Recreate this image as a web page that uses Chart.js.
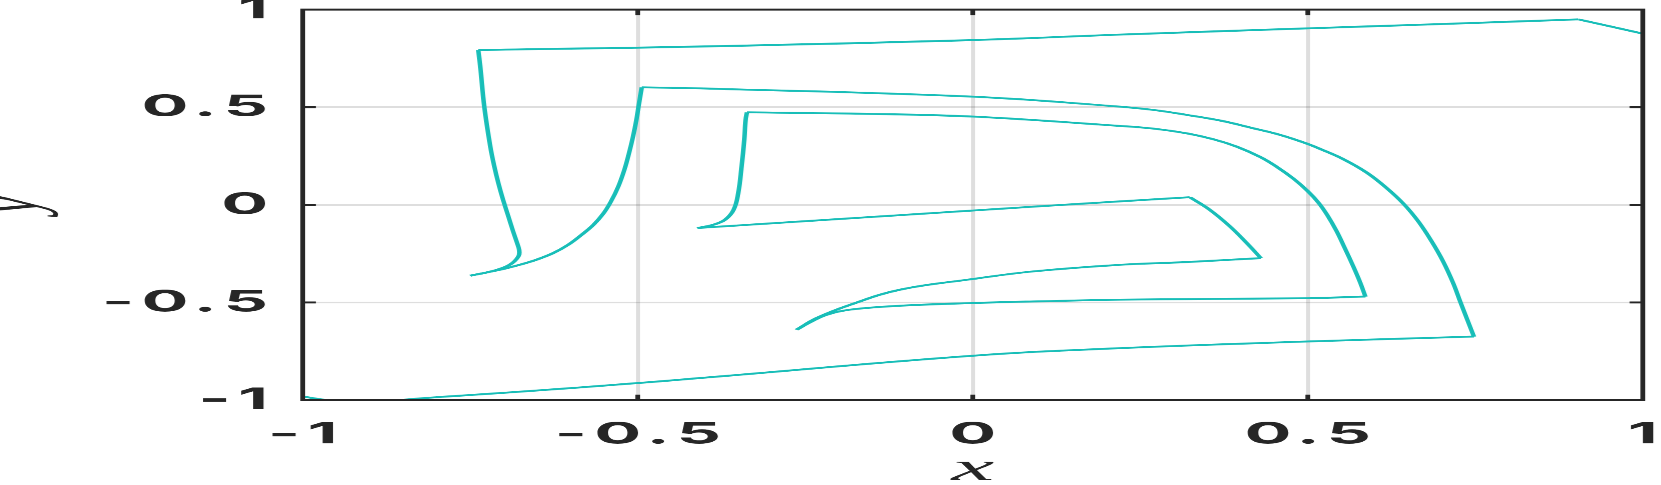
<!DOCTYPE html>
<html>
<head>
<meta charset="utf-8">
<script src="https://cdn.jsdelivr.net/npm/chart.js@4.4.1/dist/chart.umd.min.js"></script>
<style>
  html, body { margin: 0; padding: 0; background: #fff; overflow: hidden; }
  /* the reference figure is stretched sideways, so draw narrow and widen it */
  #wrap { width: 692px; height: 485px; transform: scaleX(2.40029); transform-origin: 0 0; }
</style>
</head>
<body>
<div id="wrap"><canvas id="app" width="692" height="485"></canvas></div>
<script>
// tick values / labels
const xTicks = [-1, -0.5, 0, 0.5, 1];
const yTicks = [-1, -0.5, 0, 0.5, 1];
const xTickLabels = ['-1', '-0.5', '0', '0.5', '1'];
const yTickLabels = ['-1', '-0.5', '0', '0.5', '1'];

// trajectory pieces, split at the corners: [x, y]
const outerLow = [[-1.0, -0.982], [-0.96, -1.0], [-0.86, -1.0], [-0.82, -0.990], [-0.671, -0.956],
  [-0.5, -0.913], [-0.392, -0.883], [0, -0.773], [0.220, -0.734], [0.5, -0.700], [0.748, -0.675]];
const outerArc = [[0.748, -0.675], [0.728, -0.500], [0.717, -0.401], [0.702, -0.290],
  [0.685, -0.188], [0.665, -0.085], [0.643, 0.005], [0.618, 0.085], [0.588, 0.165], [0.553, 0.234],
  [0.518, 0.287], [0.5, 0.312], [0.459, 0.358], [0.419, 0.392], [0.369, 0.432], [0.319, 0.461],
  [0.270, 0.486], [0.220, 0.503], [0, 0.554], [-0.392, 0.595], [-0.494, 0.602]];
const outerDrop = [[-0.494, 0.602], [-0.498, 0.520], [-0.502, 0.435], [-0.507, 0.350], [-0.513, 0.265],
  [-0.520, 0.179], [-0.529, 0.094], [-0.540, 0.017], [-0.551, -0.043], [-0.566, -0.102],
  [-0.584, -0.154], [-0.604, -0.205], [-0.626, -0.247], [-0.651, -0.281], [-0.676, -0.307],
  [-0.701, -0.329], [-0.725, -0.346], [-0.750, -0.363]];
const hookRise = [[-0.750, -0.363], [-0.725, -0.346], [-0.710, -0.333], [-0.696, -0.316], [-0.687, -0.298],
  [-0.681, -0.278], [-0.677, -0.256], [-0.677, -0.230], [-0.680, -0.196], [-0.686, -0.136],
  [-0.693, -0.060], [-0.701, 0.026], [-0.708, 0.111], [-0.714, 0.196], [-0.720, 0.298],
  [-0.729, 0.503], [-0.735, 0.708], [-0.738, 0.793]];
const topLine = [[-0.738, 0.793], [-0.392, 0.812], [0, 0.844], [0.220, 0.872], [0.5, 0.904],
  [0.698, 0.926], [0.904, 0.950]];
const topExit = [[0.904, 0.950], [1.0, 0.877]];
const midRise = [[-0.411, -0.119], [-0.387, -0.102], [-0.370, -0.077], [-0.357, -0.026], [-0.350, 0.060],
  [-0.345, 0.196], [-0.341, 0.333], [-0.339, 0.435], [-0.337, 0.474]];
const midArc = [[-0.337, 0.474], [-0.158, 0.466], [0, 0.452], [0.220, 0.404], [0.271, 0.390],
  [0.320, 0.366], [0.359, 0.336], [0.394, 0.298], [0.429, 0.245], [0.454, 0.194], [0.479, 0.133],
  [0.5, 0.070], [0.516, 0.011], [0.529, -0.052], [0.543, -0.135], [0.555, -0.220], [0.568, -0.316],
  [0.578, -0.396], [0.586, -0.470]];
const midLow = [[0.586, -0.470], [0.5, -0.478], [0.220, -0.486], [0.090, -0.495], [0, -0.503],
  [-0.109, -0.517], [-0.183, -0.537], [-0.218, -0.563], [-0.243, -0.602], [-0.263, -0.640]];
const innerTop = [[-0.411, -0.119], [0, -0.029], [0.220, 0.018], [0.324, 0.039]];
const innerArc = [[0.324, 0.039], [0.354, -0.026], [0.384, -0.111], [0.409, -0.196], [0.430, -0.273]];
const innerLow = [[0.430, -0.273], [0.319, -0.293], [0.220, -0.307], [0.090, -0.341], [0, -0.380],
  [-0.109, -0.435], [-0.183, -0.512], [-0.233, -0.580], [-0.263, -0.640]];

const pieces = [outerLow, outerArc, outerDrop, hookRise, topLine, topExit,
  midRise, midArc, midLow, innerTop, innerArc, innerLow];

const TEAL = 'rgb(24,190,184)';
const AXIS = '#262626';
const GRID = 'rgba(0,0,0,0.13)';
const TICK = 5.5;

const datasets = pieces.map(p => ({
  data: p.map(([x, y]) => ({ x, y })),
  showLine: true,
  borderColor: TEAL,
  borderWidth: 1.9,
  pointRadius: 0,
  tension: 0.4,
  fill: false,
}));

// box + inward ticks, then letter spacing for the tick labels drawn after this
const frame = {
  id: 'frame',
  afterDatasetsDraw(chart) {
    const { ctx, chartArea: a, scales: { x, y } } = chart;
    ctx.save();
    ctx.strokeStyle = AXIS;
    ctx.lineWidth = 2;
    ctx.beginPath();
    xTicks.slice(1, -1).forEach(v => {
      const px = x.getPixelForValue(v);
      ctx.moveTo(px, a.bottom); ctx.lineTo(px, a.bottom - TICK);
      ctx.moveTo(px, a.top); ctx.lineTo(px, a.top + TICK);
    });
    yTicks.slice(1, -1).forEach(v => {
      const py = y.getPixelForValue(v);
      ctx.moveTo(a.left, py); ctx.lineTo(a.left + TICK, py);
      ctx.moveTo(a.right, py); ctx.lineTo(a.right - TICK, py);
    });
    ctx.stroke();
    ctx.strokeRect(a.left, a.top, a.right - a.left, a.bottom - a.top);
    ctx.restore();
    ctx.letterSpacing = '3px';
  },
  afterDraw(chart) {
    chart.ctx.letterSpacing = '0px';
  }
};

// no extra room for overhanging labels
const noPad = s => { s.paddingTop = s.paddingBottom = s.paddingLeft = s.paddingRight = 0; };

const tickFont = { family: 'Inter', weight: 'bold', size: 29, lineHeight: 1.2 };

new Chart(document.getElementById('app'), {
  type: 'scatter',
  data: { datasets },
  options: {
    responsive: false,
    animation: false,
    devicePixelRatio: 2.40029,
    layout: { autoPadding: false, padding: { top: 9.6, right: 7.6, bottom: 0, left: 0 } },
    plugins: { legend: { display: false }, tooltip: { enabled: false } },
    scales: {
      x: {
        type: 'linear', min: -1, max: 1,
        afterBuildTicks: s => { s.ticks = xTicks.map(v => ({ value: v })); },
        afterFit: s => { s.height = 85; noPad(s); },
        grid: { color: GRID, lineWidth: 1.7, drawTicks: false },
        border: { display: false },
        ticks: { z: 1, autoSkip: false, maxRotation: 0, padding: 17, labelOffset: 1.5,
          color: AXIS, font: tickFont, callback: (v, i) => xTickLabels[i] },
        title: { display: true, text: 'x', color: AXIS, padding: 0,
          font: { family: 'Liberation Serif', style: 'italic', size: 40, lineHeight: 0.78 } }
      },
      y: {
        type: 'linear', min: -1, max: 1,
        afterBuildTicks: s => { s.ticks = yTicks.map(v => ({ value: v })); },
        afterFit: s => { s.width = 126.1; noPad(s); },
        grid: { color: GRID, lineWidth: 1.7, drawTicks: false },
        border: { display: false },
        ticks: { z: 1, autoSkip: false, padding: 11.4,
          color: AXIS, font: tickFont, callback: (v, i) => yTickLabels[i] },
        title: { display: true, text: 'y', color: AXIS, padding: 0,
          font: { family: 'Liberation Serif', style: 'italic', size: 40, lineHeight: 0.27 } }
      }
    }
  },
  plugins: [frame]
});
</script>
</body>
</html>
